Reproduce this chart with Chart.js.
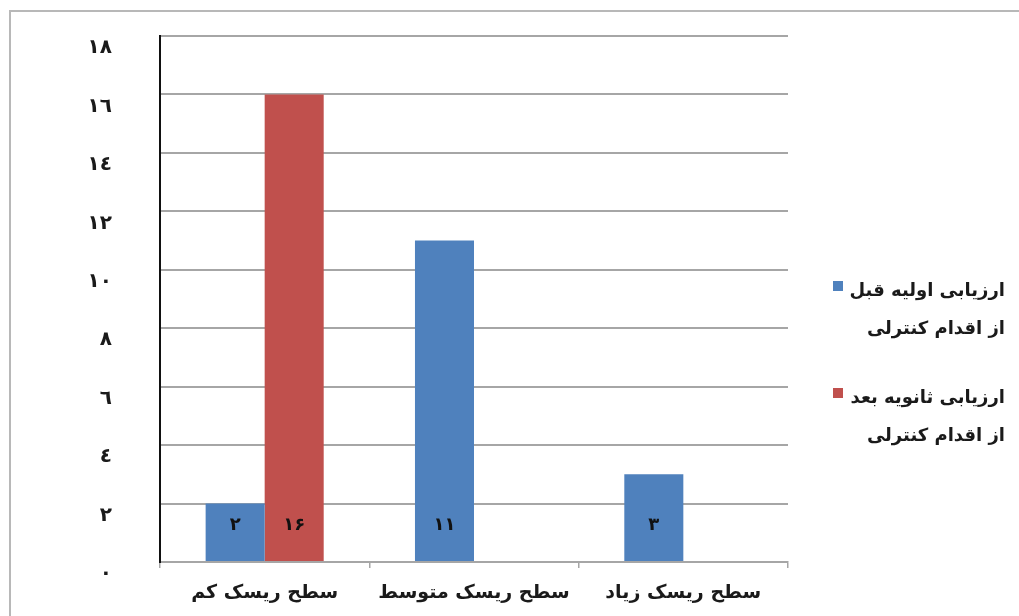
<!DOCTYPE html>
<html>
<head>
<meta charset="utf-8">
<script src="https://cdn.jsdelivr.net/npm/chart.js@4.4.0/dist/chart.umd.min.js"></script>
<style>
html, body { margin: 0; padding: 0; background: #fff; }
#wrap { width: 1019px; height: 616px; position: relative; }
</style>
</head>
<body>
<div id="wrap"><canvas id="risk-chart"></canvas></div>
<script>
const categories = ['سطح ریسک کم', 'سطح ریسک متوسط', 'سطح ریسک زیاد'];
const beforeControl = [2, 11, 3];
const afterControl = [16, null, null];
const seriesNames = [
    ['ارزیابی اولیه قبل', 'از اقدام کنترلی'],
    ['ارزیابی ثانویه بعد', 'از اقدام کنترلی']
];
const yTickLabels = ['٠', '٢', '٤', '٦', '٨', '١٠', '١٢', '١٤', '١٦', '١٨'];
const seriesColors = ['#4f81bd', '#c0504d'];

const faDigits = '۰۱۲۳۴۵۶۷۸۹';
const toFa = n => String(n).replace(/\d/g, d => faDigits[d]);

// grey frame round the whole picture
const frame = {
    id: 'frame',
    beforeDraw(chart) {
        const ctx = chart.ctx;
        ctx.save();
        ctx.strokeStyle = '#b8b8b8';
        ctx.lineWidth = 2;
        ctx.strokeRect(10, 11, 1030, 640);
        ctx.restore();
    }
};

// value labels near the foot of each bar
const barLabels = {
    id: 'barLabels',
    afterDatasetsDraw(chart) {
        const ctx = chart.ctx;
        const base = chart.scales.y.getPixelForValue(0);
        ctx.save();
        ctx.font = 'bold 18px "DejaVu Sans"';
        ctx.fillStyle = '#111';
        ctx.textAlign = 'center';
        ctx.textBaseline = 'middle';
        chart.data.datasets.forEach((ds, i) => {
            chart.getDatasetMeta(i).data.forEach((bar, j) => {
                const v = ds.data[j];
                if (v == null) return;
                ctx.fillText(toFa(v), bar.x, base - 37);
            });
        });
        ctx.restore();
    }
};

// legend on the right, two lines per entry
const sideLegend = {
    id: 'sideLegend',
    afterDraw(chart) {
        const ctx = chart.ctx;
        const rows = [291, 398];
        ctx.save();
        ctx.font = 'bold 18px "DejaVu Sans"';
        ctx.textAlign = 'right';
        ctx.textBaseline = 'middle';
        seriesNames.forEach((lines, i) => {
            ctx.fillStyle = seriesColors[i];
            ctx.fillRect(833, rows[i] - 10, 10, 10);
            ctx.fillStyle = '#1a1a1a';
            lines.forEach((t, k) => ctx.fillText(t, 1005, rows[i] + k * 38));
        });
        ctx.restore();
    }
};

const riskElem = document.getElementById('risk-chart').getContext('2d');
const riskChart = new Chart(riskElem, {
    type: 'bar',
    data: {
        labels: categories,
        datasets: [{
            label: seriesNames[0].join(' '),
            data: beforeControl,
            backgroundColor: seriesColors[0]
        },
        {
            label: seriesNames[1].join(' '),
            data: afterControl,
            backgroundColor: seriesColors[1]
        }]
    },
    options: {
        responsive: true,
        maintainAspectRatio: false,
        animation: false,
        layout: { padding: { left: 10, right: 231, top: 36, bottom: 0 } },
        datasets: { bar: { categoryPercentage: 0.564, barPercentage: 1 } },
        plugins: {
            legend: { display: false },
            tooltip: { enabled: false }
        },
        scales: {
            x: {
                grid: { drawOnChartArea: false, drawTicks: true, tickLength: 6, color: '#a6a6a6', lineWidth: 1.5 },
                border: { color: '#a6a6a6', width: 1.5 },
                ticks: { color: '#1a1a1a', font: { family: 'DejaVu Sans', size: 19, weight: 'bold' }, padding: 14, maxRotation: 0 },
                afterFit(s) { s.height = 54; }
            },
            y: {
                min: 0,
                max: 18,
                ticks: {
                    stepSize: 2,
                    padding: 48,
                    labelOffset: 12,
                    color: '#1a1a1a',
                    font: { family: 'DejaVu Sans', size: 20, weight: 'bold' },
                    callback: v => yTickLabels[v / 2]
                },
                grid: { color: '#a6a6a6', lineWidth: 2, drawTicks: false },
                border: { color: '#111', width: 2 },
                afterFit(s) {
                    s.width = 150;
                    s.paddingTop = 0;
                    s.paddingBottom = 0;
                }
            }
        }
    },
    plugins: [frame, barLabels, sideLegend]
});
</script>
</body>
</html>
